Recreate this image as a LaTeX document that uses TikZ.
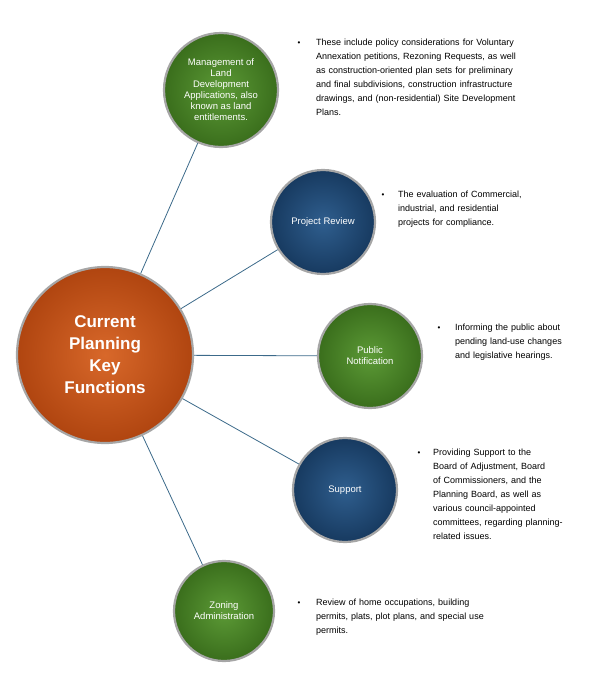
\documentclass[tikz,border=0pt]{standalone}
\usepackage{fontspec}
\setmainfont{Liberation Sans}
\definecolor{gA}{HTML}{5C9A36}\definecolor{gB}{HTML}{3A6E1C}
\definecolor{bA}{HTML}{2F5E8E}\definecolor{bB}{HTML}{173A60}
\definecolor{oA}{HTML}{D8682A}\definecolor{oB}{HTML}{B04510}
\definecolor{lnk}{HTML}{3C6A8A}
\newcommand\mynohyph{\hyphenpenalty=10000 \exhyphenpenalty=10000 \relax}
\begin{document}
\begin{tikzpicture}[x=1pt,y=-1pt,
  circ/.style={circle,draw=gray!70,line width=2.2pt,text=white,align=center,inner sep=0pt,font=\fontsize{9.5}{11}\selectfont},
  grn/.style={circ,inner color=gA,outer color=gB},
  blu/.style={circ,inner color=bA,outer color=bB},
  link/.style={draw=lnk,line width=0.8pt},
  txt/.style={anchor=north west,align=left,text width=#1,font=\fontsize{9}{14}\selectfont,execute at begin node=\mynohyph,inner sep=0pt},
  bul/.style={anchor=north,font=\fontsize{8}{10}\selectfont,inner sep=0pt}]
\useasboundingbox (0,0) rectangle (605,688);
\node[circ,minimum size=176pt,inner color=oA,outer color=oB,font=\fontsize{17}{22}\selectfont\bfseries] (c) at (105,355) {Current\\Planning\\Key\\Functions};
\node[grn,minimum size=114pt] (a) at (221,90) {Management of\\Land\\Development\\Applications, also\\known as land\\entitlements.};
\node[blu,minimum size=104pt] (b) at (323,222) {Project Review};
\node[grn,minimum size=104pt] (d) at (370,356) {Public\\Notification};
\node[blu,minimum size=104pt] (e) at (345,490) {Support};
\node[grn,minimum size=100pt] (f) at (224,611) {Zoning\\Administration};
\foreach \n in {a,b,d,e,f}{\path[link] (c) -- (\n);}
\node[bul] (ba) at (299,42) {\textbullet};
\node[txt=210pt] (ta) at (316,39) {These include policy considerations for Voluntary Annexation petitions, Rezoning Requests, as well as construction-oriented plan sets for preliminary and final subdivisions, construction infrastructure drawings, and (non-residential) Site Development Plans.};
\node[bul] (bb) at (383,194) {\textbullet};
\node[txt=132pt] (tb) at (398,191) {The evaluation of Commercial, industrial, and residential projects for compliance.};
\node[bul] (bd) at (439,327) {\textbullet};
\node[txt=118pt] (td) at (455,324) {Informing the public about pending land-use changes and legislative hearings.};
\node[bul] (be) at (419,452) {\textbullet};
\node[txt=148pt] (te) at (433,449) {Providing Support to the Board of Adjustment, Board of Commissioners, and the Planning Board, as well as various council-appointed committees, regarding planning-\linebreak related issues.};
\node[bul] (bf) at (299,602) {\textbullet};
\node[txt=172pt] (tf) at (316,599) {Review of home occupations, building permits, plats, plot plans, and special use permits.};
\end{tikzpicture}
\end{document}
